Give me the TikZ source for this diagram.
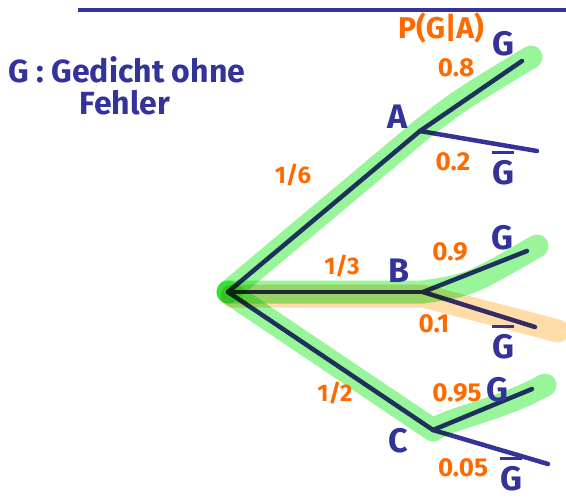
\documentclass[tikz,border=0pt]{standalone}
\usepackage{fontspec}
\setmainfont{Fira Sans}
\definecolor{inkblue}{HTML}{333399}
\definecolor{inkorange}{HTML}{FF6A00}
\definecolor{hlgreen}{HTML}{99F599}
\definecolor{hlorange}{HTML}{FFDCA8}
\newcommand\GbarSym{\leavevmode\vbox{\hrule height 2.5pt\kern 6pt\hbox{G}}}
\begin{document}
\begin{tikzpicture}[x=1pt,y=-1pt,
  branch/.style={draw=inkblue, line width=4.5pt, line cap=round},
  hl/.style={line width=23pt, line cap=round, line join=round},
  lbl/.style={text=inkblue, inner sep=0pt, font=\fontsize{34}{36}\selectfont\bfseries},
  num/.style={text=inkorange, inner sep=0pt, font=\fontsize{26}{28}\selectfont\bfseries},
  frac/.style={text=inkorange, inner sep=0pt, font=\fontsize{24}{26}\selectfont\bfseries},
  titletext/.style={text=inkblue, inner sep=0pt, font=\fontsize{32}{34}\selectfont\bfseries}]
\useasboundingbox (0,0) rectangle (566,501);
% top rule
\coordinate (topL) at (78,10);
\coordinate (topR) at (566,10);
\draw[inkblue, line width=4pt] (topL) -- (topR);
% tree coordinates
\coordinate (R) at (228,292);
\coordinate (Ro) at (232,296);
\coordinate (A) at (420,131);
\coordinate (AG) at (522,61);
\coordinate (AGb) at (537,151);
\coordinate (B) at (423,292);
\coordinate (Bo) at (423,296);
\coordinate (BG) at (527,251);
\coordinate (BGb) at (535,327);
\coordinate (C) at (433,430);
\coordinate (CG) at (532,389);
\coordinate (CGb) at (548,464);
\coordinate (hA) at (531,57);
\coordinate (hB) at (537,246);
\coordinate (hBo) at (558,331);
\coordinate (hC) at (545,385);
% branches
\draw[branch] (R) -- (A);
\draw[branch] (A) -- (AG);
\draw[branch] (A) -- (AGb);
\draw[branch] (R) -- (B);
\draw[branch] (B) -- (BG);
\draw[branch] (B) -- (BGb);
\draw[branch] (R) -- (C);
\draw[branch] (C) -- (CG);
\draw[branch] (C) -- (CGb);
% highlighter
\begin{scope}[blend mode=multiply]
\draw[hl, hlorange] (Ro) -- (Bo) .. controls (470,308) .. (hBo);
\draw[hl, hlgreen] (R) -- (A) .. controls (460,100) .. (hA);
\draw[hl, hlgreen] (R) -- (B) .. controls (470,285) .. (hB);
\draw[hl, hlgreen] (R) -- (C) .. controls (450,418) and (500,410) .. (hC);
\end{scope}
% title
\node[titletext, anchor=west] (t1) at (8,70) {G : Gedicht ohne};
\node[titletext] (t2) at (125,103) {Fehler};
% node labels
\node[lbl] (lA) at (398,117) {A};
\node[lbl] (lB) at (399,271) {B};
\node[lbl] (lC) at (398,441) {C};
\node[lbl] (gA) at (503,44) {G};
\node[lbl] (gbA) at (503,168) {\GbarSym};
\node[lbl] (gB) at (502,238) {G};
\node[lbl] (gbB) at (503,342) {\GbarSym};
\node[lbl] (gC) at (497,390) {G};
\node[lbl] (gbC) at (511,474) {\GbarSym};
% probabilities
\node[num, font=\fontsize{30}{32}\selectfont\bfseries] (pga) at (441,28) {P(G|A)};
\node[frac] (p16) at (293,175) {1/6};
\node[frac] (p13) at (342,266) {1/3};
\node[frac] (p12) at (335,393) {1/2};
\node[num] (pA1) at (456,68) {0.8};
\node[num] (pA2) at (453,162) {0.2};
\node[num] (pB1) at (450,252) {0.9};
\node[num] (pB2) at (434,324) {0.1};
\node[num] (pC1) at (457,393) {0.95};
\node[num] (pC2) at (463,468) {0.05};
\end{tikzpicture}
\end{document}
